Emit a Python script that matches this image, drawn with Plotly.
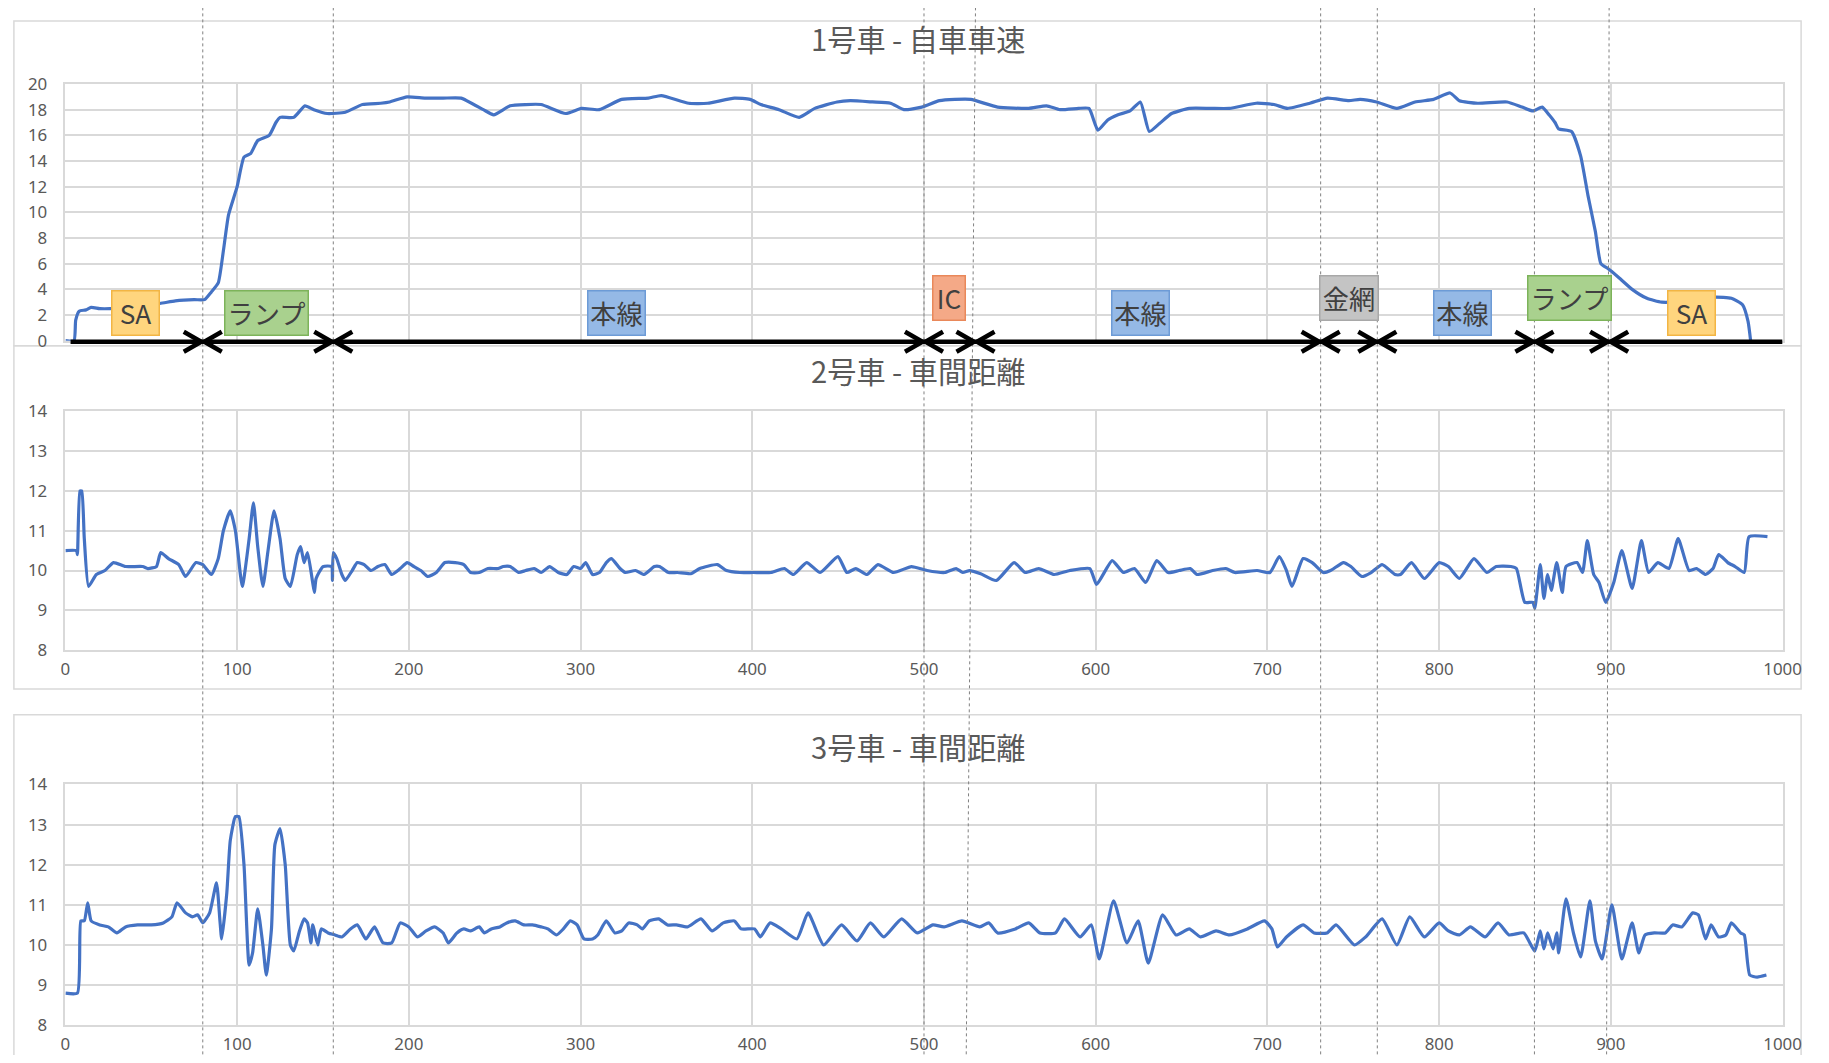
import plotly.graph_objects as go

# The page is 1829x1063 with the browser's default 8px body margin, so the figure is 16px smaller.
WIN_W, WIN_H = 1829, 1063
BODY_MARGIN = 8
FW, FH = WIN_W - 2 * BODY_MARGIN, WIN_H - 2 * BODY_MARGIN
# measured mapping page-pixel -> photographed pixel (picture = A * page + B)
AX, BX = 0.9884, 3.6
AY, BY = 0.9657, 11.96
FONT_K = 1.0 / 0.975

# ---------------- data ----------------
speed_x = [0, 5, 6, 8, 12, 15, 20, 26, 40, 55, 64, 75, 81, 85, 89, 92, 95, 100, 104, 108, 112,
           118.7, 122.6, 125, 133, 139.5, 144.7, 152.5, 163, 173, 183.6, 188.8, 199, 209.6, 220,
           230.4, 243.4, 249.4, 259, 268, 277, 291.4, 300.5, 310.9, 323.9, 339.5, 347, 363, 374,
           389.6, 398.7, 405, 415.6, 427.3, 436.4, 449.4, 457.1, 470, 480.5, 488.3, 498.7, 509,
           518, 527.3, 542.9, 561, 571.4, 579.2, 590, 596.1, 601.3, 607, 613, 620, 626, 631.2,
           637, 644.2, 654.5, 667, 677.9, 693.5, 703.9, 711.7, 724.7, 735, 747.5, 754, 763.6,
           775.4, 786, 796.8, 806.4, 811.8, 822.5, 839.6, 848.2, 854.6, 860, 864, 867.5, 869.6,
           877.1, 882.4, 886.7, 891, 894.2, 898.5, 903.9, 912.4, 921, 929.6, 945, 960.6, 970.2,
           976.7, 979.9, 981.4]
speed_y = [0, 0, 1.6, 2.3, 2.4, 2.6, 2.5, 2.5, 2.7, 2.9, 3.1, 3.2, 3.2, 3.8, 4.5, 7.0, 9.8, 12.0,
           14.3, 14.6, 15.6, 16.0, 17.0, 17.4, 17.4, 18.3, 18.0, 17.7, 17.8, 18.4, 18.5, 18.6, 19.0,
           18.9, 18.9, 18.9, 18.0, 17.6, 18.3, 18.4, 18.4, 17.7, 18.1, 18.0, 18.8, 18.9, 19.1, 18.5,
           18.5, 18.9, 18.8, 18.4, 18.0, 17.4, 18.1, 18.6, 18.7, 18.6, 18.5, 18.0, 18.2, 18.7, 18.8,
           18.8, 18.2, 18.1, 18.3, 18.0, 18.1, 18.1, 16.4, 17.2, 17.6, 17.9, 18.6, 16.3, 16.9, 17.7,
           18.1, 18.1, 18.1, 18.5, 18.4, 18.1, 18.5, 18.9, 18.7, 18.8, 18.6, 18.1, 18.6, 18.8, 19.3,
           18.7, 18.5, 18.6, 18.2, 17.9, 18.2, 17.6, 17.0, 16.5, 16.3, 14.4, 11.3, 8.5, 6.0, 5.6,
           5.0, 4.0, 3.3, 3.0, 3.1, 3.4, 3.3, 2.8, 1.5, 0]

gap2_x = [0, 6.5, 7, 8.5, 9.5, 11, 13.5, 18, 23, 28, 35, 45, 48, 53, 55.5, 60, 66, 70, 76, 80, 85,
          89, 92, 96, 99, 103, 107, 109.5, 112, 115, 118, 121.5, 125, 128, 131, 135, 137, 139, 141,
          144, 145, 146, 150, 155, 155.5, 156, 158, 161, 163, 167, 170, 174, 178, 182, 186, 190,
          195, 199, 203, 207, 211, 216, 221, 227, 232, 236, 241, 246, 252, 255, 259, 264, 268, 273,
          277, 282, 287, 292, 296, 300, 303, 307, 311, 315, 318, 323, 326, 332, 337, 343, 346,
          351.2, 356.4, 364.2, 369.4, 379.7, 385, 392.7, 400.5, 410.9, 418.7, 423.9, 431.7, 439.5,
          449.9, 455.1, 460.3, 466.8, 473.2, 482.3, 492.7, 501.8, 512.2, 518.7, 522.6, 526.5, 533,
          542.1, 552.5, 559, 566.8, 575.8, 584.9, 596.6, 600.5, 609.6, 616.1, 622.6, 629.1, 635.6,
          642.1, 648.6, 655.1, 659, 668.1, 675.8, 681, 694, 701.5, 706.9, 711.1, 714.3, 720.8,
          726.1, 732.5, 736.8, 744.3, 748.6, 755, 760.4, 766.8, 774.3, 777.5, 783.9, 791.4, 800,
          805.4, 811.8, 820.3, 827.8, 833.2, 841.8, 845, 849.9, 854.6, 855.7, 858.9, 861, 863.2,
          865.3, 868.5, 871.7, 873.9, 880.3, 883.5, 886.3, 890, 893.1, 897, 901.7, 906.4, 912.4,
          917.8, 922, 927.4, 933.8, 939.2, 945.6, 949.9, 955.2, 959.5, 962.8, 968.1, 972.4, 977.7,
          980.5, 991.2]
gap2_y = [10.5, 10.5, 10.4, 12.0, 12.0, 10.8, 9.6, 9.9, 10.0, 10.2, 10.1, 10.1, 10.05, 10.1, 10.45,
          10.3, 10.15, 9.85, 10.2, 10.15, 9.9, 10.3, 11.0, 11.5, 11.0, 9.6, 10.8, 11.7, 10.6, 9.6,
          10.5, 11.5, 10.8, 9.8, 9.6, 10.4, 10.6, 10.2, 10.45, 9.7, 9.45, 9.8, 10.1, 10.1, 9.75,
          10.45, 10.3, 9.9, 9.75, 10.0, 10.2, 10.15, 10.0, 10.1, 10.15, 9.9, 10.05, 10.2, 10.1,
          10.0, 9.85, 9.95, 10.2, 10.2, 10.15, 9.95, 9.95, 10.05, 10.05, 10.1, 10.1, 9.95, 10.0,
          10.05, 9.95, 10.1, 9.95, 9.9, 10.1, 10.05, 10.2, 9.9, 9.95, 10.2, 10.3, 10.05, 9.95, 10.0,
          9.9, 10.1, 10.1, 9.95, 9.95, 9.92, 10.05, 10.15, 10.0, 9.95, 9.95, 9.95, 10.05, 9.9, 10.2,
          9.95, 10.35, 9.95, 10.05, 9.9, 10.15, 9.95, 10.1, 10.0, 9.95, 10.05, 9.95, 10.0, 9.92,
          9.75, 10.2, 9.95, 10.05, 9.9, 10.0, 10.05, 9.65, 10.25, 9.95, 10.05, 9.7, 10.25, 9.95,
          10.0, 10.05, 9.9, 10.0, 10.05, 9.95, 10.0, 9.95, 10.35, 10.0, 9.6, 10.3, 10.2, 9.95, 10.0,
          10.2, 10.1, 9.85, 9.95, 10.15, 9.9, 9.9, 10.2, 9.8, 10.2, 10.1, 9.8, 10.3, 9.95, 10.1,
          10.1, 10.05, 9.2, 9.2, 9.05, 10.15, 9.3, 9.9, 9.5, 10.2, 9.45, 10.1, 10.2, 9.95, 10.75,
          9.9, 9.7, 9.2, 9.7, 10.5, 9.55, 10.75, 9.95, 10.2, 10.05, 10.8, 10.0, 10.05, 9.9, 10.05,
          10.4, 10.2, 10.1, 9.95, 10.85, 10.85]

gap3_x = [0, 7, 9, 11, 13, 15, 20, 25, 30, 35, 42, 50, 57, 62, 65, 70, 74, 77, 80, 84, 88, 90, 91,
          94, 96, 99, 101, 104, 107, 109, 112, 115, 117, 120, 122, 125, 128, 131, 133, 136, 139,
          141, 143, 144, 147, 149, 153, 157, 161, 166, 170, 175, 180, 185, 190, 195, 200, 205, 210,
          215, 220, 223, 228, 232, 236, 241, 244, 248, 253, 257, 262, 267, 272, 277, 281, 286, 290,
          294, 298, 302, 307, 310, 315, 320, 324, 328, 333, 336, 340, 345.5, 350.6, 355.8, 362.3,
          370.1, 376.6, 383.1, 389.6, 393.5, 401.3, 404.7, 410.4, 416.9, 426, 432.5, 441.6, 452,
          461, 468.8, 476.6, 487, 496.1, 505.2, 511.7, 522.1, 532.5, 537.7, 542.9, 553.2, 561,
          567.5, 576.6, 581.8, 590.9, 597.4, 602.1, 610.4, 618.2, 624.7, 630.6, 639, 646.8, 654.5,
          661, 670.1, 677.9, 688.3, 698.3, 702.6, 705.8, 711.1, 720.8, 727.2, 734.7, 740, 750.7,
          757.2, 766.8, 775.4, 782.9, 791.4, 800, 805.4, 811.8, 818.2, 826.8, 834.3, 840.7, 849.3,
          855.7, 858.9, 861, 863.2, 866.4, 868.5, 869.6, 873.9, 878.2, 882.4, 887.8, 891, 894.9,
          900.6, 906.4, 912.4, 916.3, 919.9, 925.3, 931.7, 936, 941.3, 947.7, 951, 955.2, 958.4,
          962.7, 967, 970.2, 975.6, 977.7, 980.9, 985.2, 990.6]
gap3_y = [8.8, 8.8, 10.6, 10.6, 11.05, 10.6, 10.5, 10.45, 10.3, 10.45, 10.5, 10.5, 10.55, 10.7,
          11.05, 10.8, 10.7, 10.75, 10.55, 10.8, 11.55, 10.6, 10.15, 11.3, 12.6, 13.2, 13.2, 12.0,
          9.5, 9.8, 10.9, 10.0, 9.25, 10.4, 12.5, 12.9, 12.0, 10.0, 9.85, 10.3, 10.65, 10.55, 10.05,
          10.5, 10.0, 10.4, 10.3, 10.25, 10.2, 10.4, 10.5, 10.15, 10.45, 10.05, 10.05, 10.55, 10.45,
          10.2, 10.35, 10.45, 10.3, 10.05, 10.3, 10.4, 10.35, 10.45, 10.3, 10.4, 10.45, 10.55, 10.6,
          10.5, 10.5, 10.45, 10.4, 10.25, 10.4, 10.6, 10.5, 10.15, 10.15, 10.25, 10.6, 10.3, 10.35,
          10.55, 10.5, 10.4, 10.6, 10.65, 10.5, 10.5, 10.45, 10.65, 10.35, 10.55, 10.6, 10.4, 10.4,
          10.2, 10.55, 10.4, 10.15, 10.8, 10.0, 10.5, 10.1, 10.55, 10.2, 10.65, 10.3, 10.5, 10.45,
          10.6, 10.45, 10.55, 10.3, 10.4, 10.55, 10.3, 10.3, 10.65, 10.2, 10.5, 9.65, 11.1, 10.05,
          10.6, 9.55, 10.75, 10.25, 10.4, 10.2, 10.35, 10.25, 10.4, 10.6, 10.4, 9.95, 10.2, 10.5,
          10.3, 10.3, 10.5, 10.0, 10.2, 10.65, 10.0, 10.7, 10.2, 10.55, 10.35, 10.25, 10.45, 10.2,
          10.55, 10.25, 10.3, 9.85, 10.35, 9.9, 10.3, 9.9, 10.3, 9.8, 11.15, 10.3, 9.7, 11.1, 10.1,
          9.65, 11.0, 9.65, 10.55, 9.8, 10.25, 10.3, 10.3, 10.5, 10.45, 10.8, 10.75, 10.15, 10.5,
          10.2, 10.25, 10.55, 10.3, 10.25, 9.25, 9.2, 9.25]

titles = ["1号車 - 自車車速", "2号車 - 車間距離", "3号車 - 車間距離"]
x_ticks = [0, 100, 200, 300, 400, 500, 600, 700, 800, 900, 1000]
speed_ticks = [0, 2, 4, 6, 8, 10, 12, 14, 16, 18, 20]
gap_ticks = [8, 9, 10, 11, 12, 13, 14]

# section boundaries (x value at top of picture / at bottom of picture)
bound_top = [80, 156, 500, 530, 731, 764, 855.5, 899]
bound_bottom = [80, 156, 500, 524.5, 731, 764, 855.5, 897.5]
route_start, route_end = 3, 1000
seg_labels = ["SA", "ランプ", "本線", "IC", "本線", "金網", "本線", "ランプ", "SA"]
seg_label_x = [41, 117, 321, 514.7, 626, 747.4, 813.4, 876, 947]

# ---------------- styles ----------------
label_style = {
    "SA": dict(bg="#FFD57E", border="#F2B544"),
    "ランプ": dict(bg="#A9D18E", border="#7DB35A"),
    "本線": dict(bg="#95B9E6", border="#6D9BD6"),
    "IC": dict(bg="#F4A987", border="#E9885A"),
    "金網": dict(bg="#C4C4C4", border="#A8A8A8"),
}
label_w = [48, 84, 58, 34, 58, 59, 58, 84, 48]
label_raised = [False, False, False, True, False, True, False, True, False]

BLUE = "#4472C4"
GRID = "#D9D9D9"
TXT = "#595959"


def px(p):
    """wanted picture pixel x -> paper fraction"""
    page = (p - BX) / AX
    return (page - BODY_MARGIN) / FW


def py(p):
    """wanted picture pixel y (from top) -> paper fraction"""
    page = (p - BY) / AY
    return 1 - (page - BODY_MARGIN) / FH


def fs(s):
    return round(s * FONT_K, 1)


fig = go.Figure()
for xs, ys, xa, ya in [(speed_x, speed_y, "x", "y"), (gap2_x, gap2_y, "x2", "y2"),
                       (gap3_x, gap3_y, "x3", "y3")]:
    fig.add_trace(go.Scatter(x=xs, y=ys, mode="lines", xaxis=xa, yaxis=ya,
                             line=dict(color=BLUE, width=3.2, shape="spline", smoothing=0.5),
                             showlegend=False, hoverinfo="skip"))

tickfont = dict(family="Noto Sans", size=fs(16.5), color=TXT)
ax_common = dict(showgrid=True, gridcolor=GRID, gridwidth=1.6, zeroline=False,
                 showline=True, linecolor=GRID, linewidth=1.6, mirror=True, ticks="",
                 tickfont=tickfont, fixedrange=True)
xdom = [px(64), px(1784)]

layout_axes = dict(
    xaxis=dict(ax_common, domain=xdom, range=[0, 1000], tickvals=x_ticks,
               showticklabels=False, anchor="y"),
    yaxis=dict(ax_common, domain=[py(342), py(84)], range=[0, 20], tickvals=speed_ticks,
               anchor="x", ticklabelstandoff=13),
    xaxis2=dict(ax_common, domain=xdom, range=[0, 1000], tickvals=x_ticks, anchor="y2",
                ticklabelstandoff=3),
    yaxis2=dict(ax_common, domain=[py(653), py(413)], range=[8, 14], tickvals=gap_ticks,
                anchor="x2", ticklabelstandoff=13),
    xaxis3=dict(ax_common, domain=xdom, range=[0, 1000], tickvals=x_ticks, anchor="y3",
                ticklabelstandoff=3),
    yaxis3=dict(ax_common, domain=[py(1030), py(788)], range=[8, 14], tickvals=gap_ticks,
                anchor="x3", ticklabelstandoff=13),
)

shapes = []
# chart frames
for (x0, x1, y0, y1) in [(7, 1825, 7, 347), (7, 1822, 347, 692), (7, 1822, 718, 1100)]:
    shapes.append(dict(type="rect", xref="paper", yref="paper", x0=max(px(x0), 0.0005),
                       x1=min(px(x1), 0.9995), y0=py(y1), y1=min(py(y0), 0.999),
                       line=dict(color=GRID, width=1.5), layer="below"))

# dotted section separators across all charts
for bt, bb in zip(bound_top, bound_bottom):
    shapes.append(dict(type="line", xref="x", yref="paper", x0=bt, x1=bb, y0=py(7),
                       y1=py(1080), line=dict(color="#808080", width=1, dash="dot")))

# route arrow line with chevrons at every section boundary
arrow_y = py(343)
shapes.append(dict(type="line", xref="x", yref="paper", x0=route_start, x1=route_end,
                   y0=arrow_y, y1=arrow_y, line=dict(color="black", width=4.5)))
for b in bound_top:
    for path in ["M -19,-10 L -1.5,0 L -19,10", "M 19,-10 L 1.5,0 L 19,10"]:
        shapes.append(dict(type="path", xref="x", yref="paper", xsizemode="pixel",
                           ysizemode="pixel", xanchor=b, yanchor=arrow_y, path=path,
                           line=dict(color="black", width=4.5)))

annotations = []
for t, yc in zip(titles, [38, 371, 749]):
    annotations.append(dict(text=t, xref="paper", yref="paper", x=px(919), y=py(yc),
                            xanchor="center", yanchor="middle", showarrow=False,
                            font=dict(family="Noto Sans CJK JP", size=fs(28.5), color=TXT)))

for lab, xc, w, raised in zip(seg_labels, seg_label_x, label_w, label_raised):
    st = label_style[lab]
    yc = 299.5 if raised else 314
    annotations.append(dict(text=lab, xref="x", yref="paper", x=xc, y=py(yc),
                            xanchor="center", yanchor="middle", showarrow=False,
                            width=round(w / AX) - 3, height=round(44 / AY) - 3,
                            bgcolor=st["bg"], bordercolor=st["border"], borderwidth=1.5,
                            borderpad=0,
                            font=dict(family="Noto Sans CJK JP", size=fs(25.5),
                                      color="#404040")))

fig.update_layout(width=FW, height=FH, margin=dict(l=0, r=0, t=0, b=0),
                  paper_bgcolor="white", plot_bgcolor="white",
                  shapes=shapes, annotations=annotations, **layout_axes)

fig.write_html("out.html", config={"displayModeBar": False})
